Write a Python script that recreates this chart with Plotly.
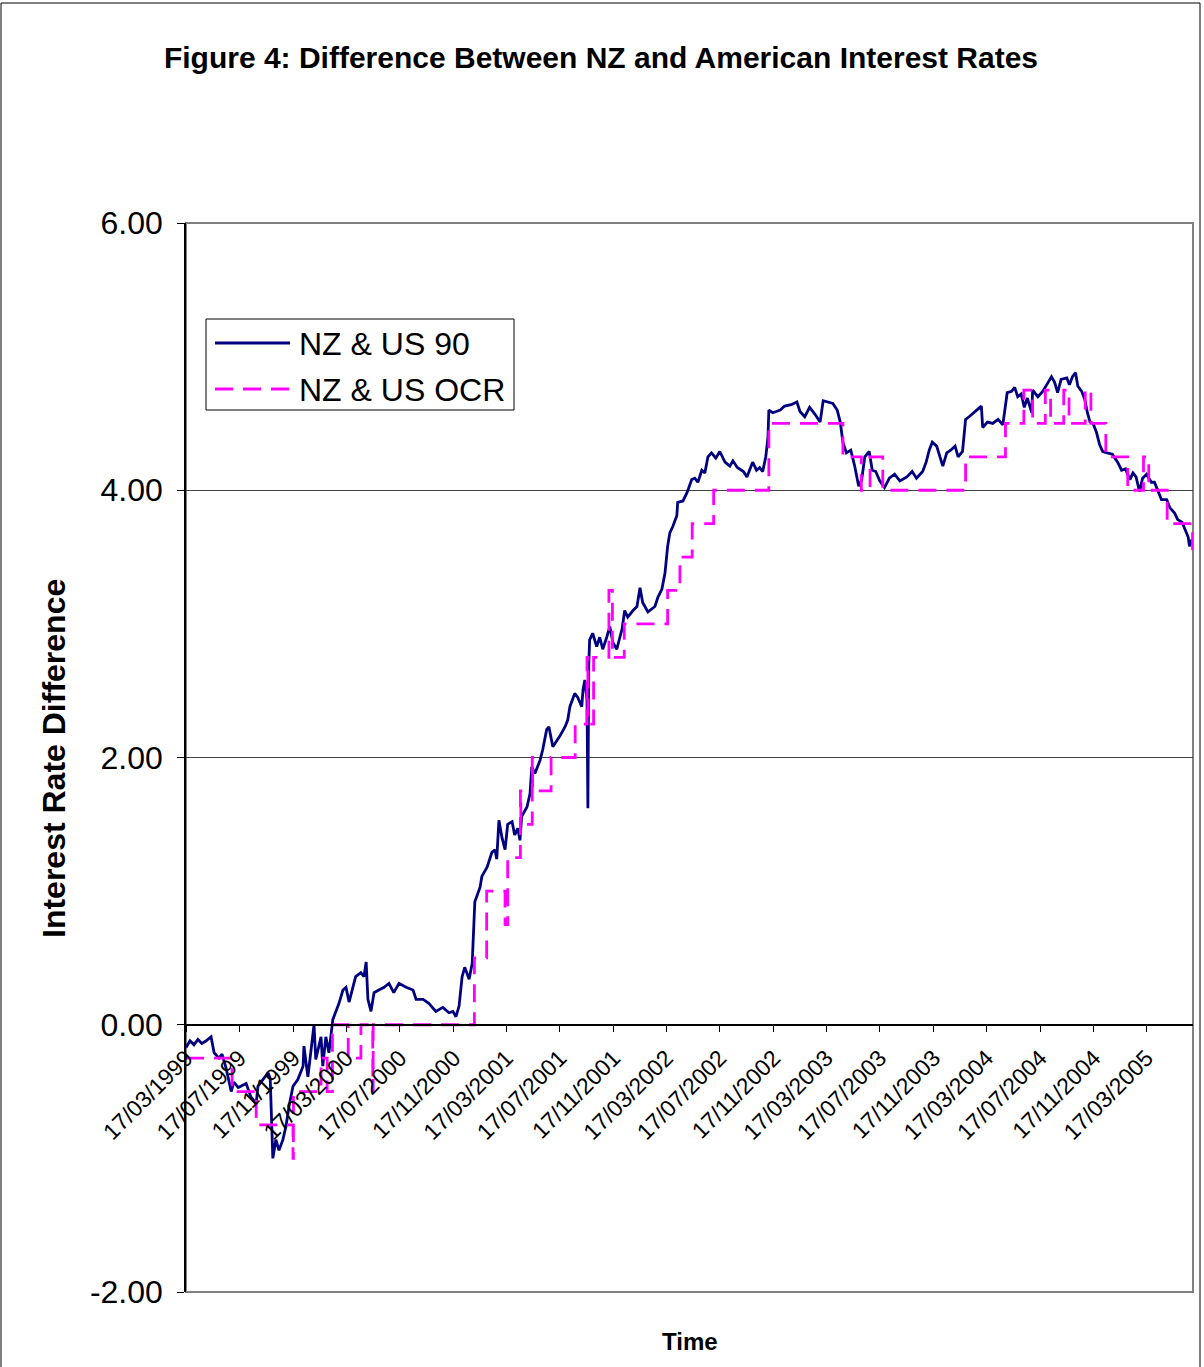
import plotly.graph_objects as go

# ---- NZ & US 90-day rate difference ----
dates_90 = [
    "1999-03-17", "1999-03-26", "1999-04-04", "1999-04-13", "1999-04-22", "1999-05-02",
    "1999-05-13", "1999-05-20", "1999-05-31", "1999-06-07", "1999-06-16", "1999-06-28",
    "1999-07-04", "1999-07-14", "1999-07-20", "1999-08-01", "1999-08-12", "1999-08-24",
    "1999-08-28", "1999-09-11", "1999-09-20", "1999-09-25", "1999-09-29", "1999-10-01",
    "1999-10-08", "1999-10-15", "1999-10-24", "1999-10-31", "1999-11-07", "1999-11-16",
    "1999-11-27", "1999-12-09", "1999-12-11", "1999-12-20", "2000-01-03", "2000-01-07",
    "2000-01-19", "2000-01-23", "2000-01-30", "2000-02-06", "2000-02-15", "2000-02-22",
    "2000-02-29", "2000-03-09", "2000-03-16", "2000-03-23", "2000-04-01", "2000-04-07",
    "2000-04-19", "2000-04-26", "2000-05-01", "2000-05-05", "2000-05-12", "2000-05-19",
    "2000-05-30", "2000-06-11", "2000-06-22", "2000-07-03", "2000-07-15", "2000-07-31",
    "2000-08-16", "2000-08-23", "2000-09-08", "2000-09-21", "2000-10-07", "2000-10-23",
    "2000-11-06", "2000-11-15", "2000-11-22", "2000-11-29", "2000-12-06", "2000-12-12",
    "2000-12-22", "2000-12-29", "2001-01-04", "2001-01-16", "2001-01-20", "2001-02-01",
    "2001-02-12", "2001-02-19", "2001-02-23", "2001-02-28", "2001-03-07", "2001-03-14",
    "2001-03-20", "2001-03-30", "2001-04-05", "2001-04-12", "2001-04-17", "2001-04-21",
    "2001-05-03", "2001-05-10", "2001-05-14", "2001-05-21", "2001-06-02", "2001-06-08",
    "2001-06-17", "2001-06-22", "2001-07-01", "2001-07-10", "2001-07-17", "2001-07-29",
    "2001-08-04", "2001-08-09", "2001-08-20", "2001-08-27", "2001-09-05", "2001-09-08",
    "2001-09-12", "2001-09-17", "2001-09-19", "2001-09-21", "2001-09-23", "2001-09-30",
    "2001-10-09", "2001-10-16", "2001-10-23", "2001-11-01", "2001-11-08", "2001-11-15",
    "2001-11-24", "2001-12-01", "2001-12-06", "2001-12-12", "2001-12-19", "2001-12-31",
    "2002-01-09", "2002-01-16", "2002-01-22", "2002-02-03", "2002-02-12", "2002-02-19",
    "2002-02-26", "2002-03-07", "2002-03-14", "2002-03-20", "2002-03-25", "2002-04-01",
    "2002-04-10", "2002-04-12", "2002-04-24", "2002-05-03", "2002-05-14", "2002-05-21",
    "2002-05-28", "2002-06-06", "2002-06-13", "2002-06-20", "2002-06-28", "2002-07-08",
    "2002-07-17", "2002-07-29", "2002-08-09", "2002-08-16", "2002-08-26", "2002-09-09",
    "2002-09-17", "2002-09-30", "2002-10-09", "2002-10-16", "2002-10-23", "2002-10-30",
    "2002-11-04", "2002-11-06", "2002-11-15", "2002-12-02", "2002-12-12", "2002-12-27",
    "2003-01-09", "2003-01-16", "2003-01-27", "2003-02-07", "2003-02-19", "2003-03-03",
    "2003-03-10", "2003-03-20", "2003-04-01", "2003-04-11", "2003-04-18", "2003-04-24",
    "2003-05-02", "2003-05-12", "2003-05-21", "2003-05-30", "2003-06-06", "2003-06-13",
    "2003-06-23", "2003-06-30", "2003-07-08", "2003-07-17", "2003-07-28", "2003-08-08",
    "2003-08-20", "2003-09-01", "2003-09-17", "2003-09-29", "2003-10-09", "2003-10-23",
    "2003-10-31", "2003-11-07", "2003-11-14", "2003-11-24", "2003-12-01", "2003-12-08",
    "2003-12-17", "2003-12-26", "2004-01-05", "2004-01-12", "2004-01-22", "2004-01-29",
    "2004-02-06", "2004-02-23", "2004-03-05", "2004-03-08", "2004-03-19", "2004-03-31",
    "2004-04-12", "2004-04-23", "2004-05-03", "2004-05-13", "2004-05-20", "2004-05-27",
    "2004-06-04", "2004-06-11", "2004-06-18", "2004-06-28", "2004-06-30", "2004-07-12",
    "2004-07-23", "2004-08-03", "2004-08-12", "2004-08-19", "2004-08-26", "2004-09-03",
    "2004-09-16", "2004-09-22", "2004-09-29", "2004-10-06", "2004-10-11", "2004-10-20",
    "2004-10-27", "2004-11-02", "2004-11-08", "2004-11-15", "2004-11-23", "2004-11-30",
    "2004-12-07", "2004-12-17", "2004-12-29", "2005-01-10", "2005-01-19", "2005-01-28",
    "2005-02-07", "2005-02-14", "2005-02-21", "2005-03-01", "2005-03-08", "2005-03-17",
    "2005-03-28", "2005-04-04", "2005-04-11", "2005-04-20", "2005-05-02", "2005-05-09",
    "2005-05-20", "2005-05-27", "2005-06-06", "2005-06-13", "2005-06-20", "2005-06-23",
    "2005-06-28",
]
values_90 = [
    -0.17, -0.12, -0.15, -0.11, -0.14, -0.12,
    -0.09, -0.21, -0.25, -0.22, -0.32, -0.50,
    -0.43, -0.47, -0.46, -0.44, -0.54, -0.59,
    -0.46, -0.40, -0.36, -0.40, -0.76, -1.00,
    -0.86, -0.94, -0.86, -0.76, -0.61, -0.46,
    -0.41, -0.31, -0.16, -0.39, 0.00, -0.26,
    -0.09, -0.31, -0.09, -0.21, 0.04, 0.10,
    0.16, 0.26, 0.28, 0.17, 0.28, 0.36,
    0.39, 0.36, 0.47, 0.19, 0.10, 0.24,
    0.26, 0.28, 0.31, 0.24, 0.31, 0.28,
    0.26, 0.19, 0.19, 0.16, 0.10, 0.13,
    0.09, 0.10, 0.06, 0.14, 0.36, 0.43,
    0.34, 0.46, 0.92, 1.03, 1.11, 1.18,
    1.29, 1.31, 1.24, 1.53, 1.40, 1.31,
    1.50, 1.52, 1.42, 1.47, 1.38, 1.56,
    1.63, 1.73, 1.93, 1.88, 1.98, 2.06,
    2.21, 2.23, 2.08, 2.12, 2.16, 2.23,
    2.28, 2.38, 2.48, 2.45, 2.38, 2.51,
    2.58, 2.43, 1.62, 2.69, 2.88, 2.93,
    2.83, 2.90, 2.81, 2.90, 2.98, 2.86,
    2.81, 2.90, 2.96, 3.10, 3.05, 3.10,
    3.13, 3.27, 3.16, 3.09, 3.11, 3.13,
    3.20, 3.26, 3.38, 3.58, 3.68, 3.73,
    3.81, 3.91, 3.92, 3.98, 4.08, 4.09,
    4.06, 4.15, 4.13, 4.25, 4.28, 4.24,
    4.29, 4.21, 4.18, 4.22, 4.17, 4.14,
    4.10, 4.21, 4.15, 4.17, 4.14, 4.25,
    4.40, 4.60, 4.58, 4.60, 4.63, 4.64,
    4.66, 4.59, 4.55, 4.62, 4.57, 4.51,
    4.67, 4.66, 4.65, 4.60, 4.51, 4.36,
    4.28, 4.30, 4.18, 4.03, 4.08, 4.25,
    4.29, 4.15, 4.14, 4.07, 4.02, 4.09,
    4.12, 4.07, 4.10, 4.14, 4.09, 4.14,
    4.21, 4.30, 4.36, 4.33, 4.25, 4.18,
    4.28, 4.30, 4.33, 4.25, 4.29, 4.53,
    4.55, 4.60, 4.63, 4.47, 4.51, 4.50,
    4.53, 4.49, 4.73, 4.74, 4.77, 4.70,
    4.72, 4.62, 4.69, 4.58, 4.75, 4.70,
    4.74, 4.80, 4.85, 4.81, 4.73, 4.83,
    4.84, 4.79, 4.85, 4.88, 4.78, 4.74,
    4.68, 4.58, 4.51, 4.50, 4.43, 4.34,
    4.29, 4.28, 4.27, 4.21, 4.15, 4.16,
    4.08, 4.13, 4.10, 3.99, 4.09, 4.12,
    4.06, 4.06, 4.00, 3.93, 3.93, 3.87,
    3.83, 3.78, 3.76, 3.71, 3.65, 3.58,
    3.63,
]

# ---- NZ & US OCR difference (step changes) ----
ocr_dates = [
    "1999-03-17", "1999-06-30", "1999-08-24", "1999-11-16", "1999-11-17", "2000-01-19",
    "2000-02-02", "2000-02-14", "2000-03-21", "2000-04-19", "2000-05-16", "2000-05-17",
    "2001-01-03", "2001-01-31", "2001-03-14", "2001-03-20", "2001-04-18", "2001-04-19",
    "2001-05-15", "2001-05-16", "2001-06-27", "2001-08-21", "2001-09-17", "2001-09-19",
    "2001-10-02", "2001-11-06", "2001-11-14", "2001-12-11", "2002-03-20", "2002-04-17",
    "2002-05-15", "2002-07-03", "2002-11-06", "2003-04-24", "2003-06-05", "2003-06-25",
    "2003-07-24", "2004-01-29", "2004-04-29", "2004-06-10", "2004-06-30", "2004-07-29",
    "2004-08-10", "2004-09-09", "2004-09-21", "2004-10-28", "2004-11-10", "2004-12-14",
    "2005-02-02", "2005-03-10", "2005-03-22", "2005-05-03", "2005-06-30",
]
ocr_values = [
    -0.25, -0.50, -0.75, -1.00, -0.50, -0.25,
    -0.50, 0.00, -0.25, 0.00, -0.50, 0.00,
    0.50, 1.00, 0.75, 1.25, 1.75, 1.50,
    2.00, 1.75, 2.00, 2.25, 2.75, 2.25,
    2.75, 3.25, 2.75, 3.00, 3.25, 3.50,
    3.75, 4.00, 4.50, 4.25, 4.00, 4.25,
    4.00, 4.25, 4.50, 4.75, 4.50, 4.75,
    4.50, 4.75, 4.50, 4.75, 4.50, 4.25,
    4.00, 4.25, 4.00, 3.75, 3.50,
]

series_names = ["NZ & US 90", "NZ & US OCR"]
series_colors = ["#000080", "#FF00FF"]
y_tick_vals = [-2, 0, 2, 4, 6]
y_tick_text = ["-2.00", "0.00", "2.00", "4.00", "6.00"]

FONT = "Liberation Sans, Arial, sans-serif"
DASH = "18px,10px"

# pixel helpers for the plot area (l=186, r=1193, t=223, b=1292)
def px_x(px):
    return (px - 186) / 1007.0

def px_y(py):
    return (1292 - py) / 1069.0

fig = go.Figure()
fig.add_trace(go.Scatter(
    x=dates_90, y=values_90, mode="lines", name=series_names[0],
    line=dict(color=series_colors[0], width=2.8), showlegend=False,
))
fig.add_trace(go.Scatter(
    x=ocr_dates, y=ocr_values, mode="lines", name=series_names[1],
    line=dict(color=series_colors[1], width=2.8, dash=DASH, shape="hv"),
    showlegend=False,
))

fig.update_layout(
    width=1204, height=1367, autosize=False,
    margin=dict(l=186, r=11, t=223, b=75, pad=0),
    paper_bgcolor="white", plot_bgcolor="white",
    font=dict(family=FONT, color="black"),
    title=dict(
        text="Figure 4: Difference Between NZ and American Interest Rates",
        font=dict(family=FONT, size=30, color="black", weight="bold"),
        x=601 / 1204, xanchor="center", xref="container",
        y=1 - 57 / 1367, yanchor="middle", yref="container",
    ),
    xaxis=dict(
        type="date",
        range=["1999-03-16 20:00", "2005-07-01"],
        tick0="1999-03-17", dtick="M4", tickformat="%d/%m/%Y",
        tickangle=-45, ticks="outside", ticklen=6, tickcolor="black", tickwidth=1,
        showline=True, linecolor="black", linewidth=1.5,
        showgrid=False, zeroline=False,
        anchor="free", position=0.25,
        tickfont=dict(family=FONT, size=23, color="black"),
        ticklabelstandoff=4,
    ),
    yaxis=dict(
        range=[-2, 6], tickvals=y_tick_vals, ticktext=y_tick_text,
        ticks="outside", ticklen=7, tickcolor="black", tickwidth=1,
        showline=True, linecolor="black", linewidth=1.5,
        showgrid=True, gridcolor="#404040", gridwidth=1,
        zeroline=False,
        tickfont=dict(family=FONT, size=32, color="black"),
        ticklabelstandoff=8,
    ),
    showlegend=False,
)

# plot-area border and outer chart frame
fig.add_shape(type="rect", xref="paper", yref="paper", x0=0, x1=1, y0=0, y1=1,
              line=dict(color="#808080", width=2), layer="below")
fig.add_shape(type="rect", xref="paper", yref="paper",
              x0=px_x(1), x1=px_x(1200), y0=px_y(1380), y1=px_y(3),
              line=dict(color="black", width=1), layer="above")

# legend box (drawn to match the original Excel legend)
fig.add_shape(type="rect", xref="paper", yref="paper",
              x0=px_x(206), x1=px_x(514), y0=px_y(410), y1=px_y(319),
              line=dict(color="black", width=1), fillcolor="white", layer="above")
legend_rows = [343, 389]
for i in range(2):
    fig.add_shape(type="line", xref="paper", yref="paper",
                  x0=px_x(215), x1=px_x(290), y0=px_y(legend_rows[i]), y1=px_y(legend_rows[i]),
                  line=dict(color=series_colors[i], width=2.8, dash=None if i == 0 else DASH),
                  layer="above")
    fig.add_annotation(text=series_names[i], xref="paper", yref="paper",
                       x=px_x(297), y=px_y(legend_rows[i] + 1), xanchor="left", yanchor="middle",
                       showarrow=False,
                       font=dict(family=FONT, size=32, color="black"))

fig.add_annotation(text="Interest Rate Difference", xref="paper", yref="paper",
                   x=px_x(54), y=px_y(759), xanchor="center", yanchor="middle",
                   textangle=-90, showarrow=False,
                   font=dict(family=FONT, size=32, color="black", weight="bold"))
fig.add_annotation(text="Time", xref="paper", yref="paper",
                   x=px_x(690), y=px_y(1341), xanchor="center", yanchor="middle",
                   showarrow=False,
                   font=dict(family=FONT, size=24, color="black", weight="bold"))

fig.write_html("out.html")
